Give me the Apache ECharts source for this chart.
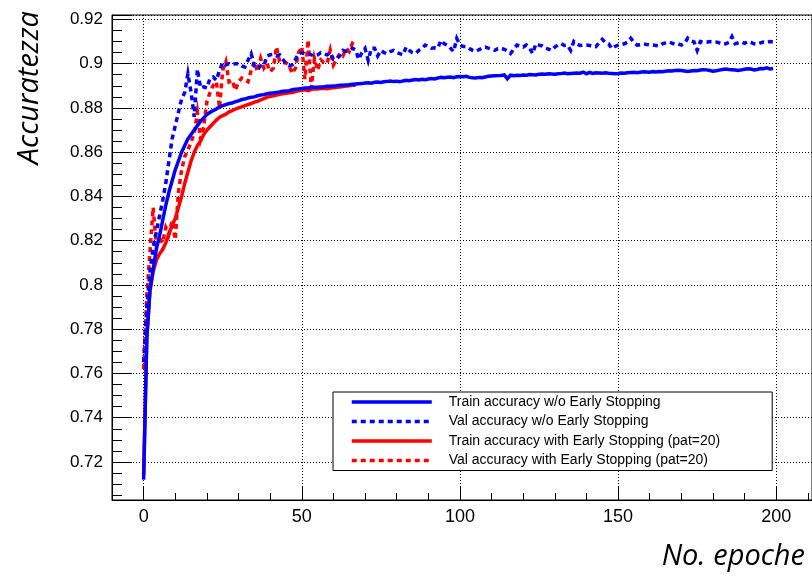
<!DOCTYPE html>
<html>
<head>
<meta charset="utf-8">
<script src="https://cdn.jsdelivr.net/npm/echarts@6/dist/echarts.min.js"></script>
<style>html,body{margin:0;padding:0;background:#fff}#c{width:812px;height:576px}</style>
</head>
<body>
<div id="c"></div>
<script>
const seriesNames = [
  'Train accuracy w/o Early Stopping',
  'Val accuracy w/o Early Stopping',
  'Train accuracy with Early Stopping (pat=20)',
  'Val accuracy with Early Stopping (pat=20)'
];
const xTitle = 'No. epoche';
const yTitle = 'Accuratezza';

const trainNoES = [
0.712,0.776,0.798,0.807,0.816,0.822,0.829,0.836,0.842,0.847,
0.852,0.856,0.860,0.863,0.866,0.868,0.870,0.872,0.874,0.8755,
0.877,0.878,0.8788,0.8795,0.8805,0.881,0.8815,0.882,0.8822,0.8828,
0.8832,0.8838,0.884,0.8845,0.8848,0.885,0.8855,0.8858,0.886,0.8864,
0.8866,0.8868,0.887,0.8872,0.8875,0.8876,0.8878,0.8882,0.8884,0.8886,
0.8888,0.889,0.889,0.8892,0.8894,0.8894,0.8895,0.8896,0.8898,0.8898,
0.8899,0.890,0.8902,0.8903,0.8904,0.8905,0.8907,0.8908,0.8909,0.891,
0.8913,0.8914,0.8912,0.8916,0.8917,0.8915,0.8918,0.892,0.8922,0.8919,
0.8921,0.8918,0.8922,0.8925,0.8923,0.8926,0.8928,0.8926,0.8929,0.8927,
0.8931,0.8933,0.8931,0.8935,0.8938,0.8936,0.8939,0.894,0.8937,0.8941,
0.8942,0.8941,0.8943,0.8938,0.8936,0.8935,0.8938,0.8937,0.894,0.8943,
0.8944,0.8945,0.8946,0.8947,0.8949,0.8932,0.8948,0.8946,0.8948,0.8947,
0.8949,0.8948,0.8951,0.895,0.8949,0.8952,0.8953,0.8952,0.8954,0.8953,
0.8952,0.8954,0.8955,0.8958,0.8955,0.8956,0.8957,0.8958,0.8957,0.8962,
0.8954,0.8961,0.8956,0.8959,0.8958,0.8957,0.8959,0.8957,0.8956,0.8955,
0.8956,0.8958,0.8957,0.8959,0.896,0.8961,0.8959,0.8961,0.8963,0.8962,
0.8961,0.8964,0.8962,0.8965,0.8964,0.8966,0.8968,0.8967,0.8969,0.897,
0.8969,0.8967,0.8965,0.8967,0.8969,0.8968,0.8971,0.8973,0.8972,0.8969,
0.8966,0.8968,0.8971,0.8974,0.8976,0.8974,0.8973,0.8971,0.8969,0.8972,
0.8975,0.8977,0.8976,0.8972,0.8974,0.8978,0.8977,0.8981,0.8976,0.8978
];
const valNoES = [
0.765,0.790,0.806,0.817,0.824,0.831,0.838,0.846,0.856,0.866,
0.872,0.878,0.884,0.887,0.8955,0.887,0.876,0.8975,0.889,0.8895,
0.889,0.8935,0.894,0.8925,0.897,0.9005,0.8995,0.900,0.8995,0.900,
0.900,0.899,0.8985,0.9015,0.9045,0.899,0.8975,0.899,0.899,0.9035,
0.904,0.9042,0.9035,0.904,0.902,0.900,0.899,0.8995,0.902,0.9045,
0.905,0.9045,0.9046,0.904,0.9035,0.904,0.905,0.9045,0.904,0.905,
0.902,0.9022,0.9035,0.906,0.9055,0.906,0.907,0.9062,0.902,0.905,
0.9069,0.9015,0.907,0.907,0.9035,0.906,0.905,0.9045,0.9055,0.906,
0.905,0.9045,0.904,0.9075,0.906,0.905,0.9046,0.906,0.907,0.9084,
0.9078,0.907,0.9072,0.907,0.9105,0.909,0.9084,0.907,0.9055,0.9114,
0.9084,0.9078,0.9077,0.9068,0.906,0.9055,0.9063,0.907,0.9075,0.907,
0.9066,0.906,0.9068,0.907,0.9065,0.9058,0.9046,0.9065,0.9084,0.908,
0.9075,0.9084,0.907,0.9046,0.909,0.9084,0.908,0.907,0.9066,0.906,
0.9075,0.9085,0.909,0.9082,0.9084,0.906,0.910,0.9088,0.9082,0.9084,
0.9084,0.9082,0.908,0.9077,0.9095,0.911,0.9095,0.909,0.9068,0.9078,
0.9084,0.9086,0.909,0.9098,0.9115,0.9095,0.9084,0.9086,0.909,0.9087,
0.9085,0.9084,0.9082,0.908,0.909,0.9094,0.9098,0.9093,0.9087,0.909,
0.9084,0.9092,0.9115,0.9103,0.9098,0.906,0.910,0.9098,0.9097,0.910,
0.9099,0.9098,0.9094,0.9088,0.909,0.9096,0.9122,0.909,0.9094,0.9098,
0.9092,0.910,0.9096,0.909,0.9088,0.9094,0.9098,0.9096,0.910,0.9098
];
const trainES = [
0.714,0.776,0.797,0.806,0.811,0.814,0.816,0.819,0.823,0.827,
0.830,0.835,0.840,0.846,0.851,0.856,0.860,0.863,0.865,0.868,
0.870,0.8715,0.873,0.8745,0.8758,0.8765,0.8772,0.8782,0.8788,0.8795,
0.880,0.8805,0.881,0.8815,0.882,0.8826,0.883,0.8836,0.8842,0.8848,
0.8852,0.8855,0.8858,0.8862,0.8864,0.8866,0.8868,0.887,0.8874,0.8878,
0.888,0.8882,0.8878,0.8884,0.8885,0.8886,0.8888,0.8889,0.8887,0.889,
0.8891,0.8893,0.8895,0.8897,0.8899,0.890,0.8902,0.8903
];
const valES = [
0.762,0.795,0.815,0.835,0.818,0.821,0.819,0.826,0.823,0.829,
0.8205,0.842,0.852,0.858,0.861,0.8645,0.8685,0.878,0.866,0.8715,
0.8828,0.887,0.8903,0.8918,0.880,0.8971,0.9009,0.8918,0.8925,0.888,
0.8918,0.8935,0.8925,0.8918,0.897,0.9009,0.8964,0.9024,0.898,0.900,
0.8964,0.898,0.9076,0.9009,0.9002,0.9005,0.899,0.8956,0.898,0.905,
0.9076,0.893,0.9107,0.889,0.9024,0.8971,0.9017,0.9005,0.900,0.9061,
0.8994,0.902,0.9046,0.9035,0.907,0.9055,0.9092,0.908
];

const toPairs = arr => arr.map((v, i) => [i, v]);
const BLUE = '#0000ff', RED = '#ff0000';
const dotted = [5, 4];

const chart = echarts.init(document.getElementById('c'), null, {renderer: 'canvas'});
const tickFont = 'Liberation Sans';

function lineSeries(name, data, color, dashed, z) {
  return {
    name: name, type: 'line', data: toPairs(data),
    showSymbol: false, symbol: 'none', z: z, animation: false,
    lineStyle: {color: color, width: 3.5, type: dashed ? dotted : 'solid', cap: 'butt', join: 'miter'},
    itemStyle: {color: color}
  };
}

chart.setOption({
  animation: false,
  backgroundColor: '#ffffff',
  grid: {left: 112, top: 15, right: -10, bottom: 76, show: true, borderColor: '#000', borderWidth: 1, backgroundColor: 'transparent'},
  xAxis: {
    type: 'value', min: -10, max: 211.3, splitNumber: 5,
    axisLine: {show: true, onZero: false, lineStyle: {color: '#000', width: 1}},
    axisTick: {show: true, inside: true, length: 14, lineStyle: {color: '#000'}},
    minorTick: {show: true, splitNumber: 5, length: 7, lineStyle: {color: '#000'}},
    axisLabel: {show: true, color: '#000', fontFamily: tickFont, fontSize: 18, margin: 8, showMinLabel: false, showMaxLabel: false},
    splitLine: {show: true, lineStyle: {color: '#000', width: 1, type: [1, 2]}}
  },
  yAxis: {
    type: 'value', min: 0.7028, max: 0.922, splitNumber: 10,
    axisLine: {show: true, onZero: false, lineStyle: {color: '#000', width: 1}},
    axisTick: {show: true, inside: true, length: 20, lineStyle: {color: '#000'}},
    minorTick: {show: true, splitNumber: 4, length: 10, lineStyle: {color: '#000'}},
    axisLabel: {show: true, color: '#000', fontFamily: tickFont, fontSize: 17, margin: 9, showMinLabel: false, showMaxLabel: false,
      formatter: v => String(Math.round(v * 100) / 100)},
    splitLine: {show: true, lineStyle: {color: '#000', width: 1, type: [1, 2]}}
  },
  legend: {
    show: true, orient: 'vertical', left: 333, top: 392,
    data: seriesNames,
    itemWidth: 80, itemHeight: 14, itemGap: 5.5,
    padding: [3, 52, 3, 17],
    itemStyle: {opacity: 0},
    lineStyle: {width: 3.5},
    backgroundColor: '#fff', borderColor: '#000', borderWidth: 1, borderRadius: 0,
    textStyle: {fontFamily: tickFont, fontSize: 14, color: '#000', padding: [0, 0, 0, 12]},
    selectedMode: false
  },
  graphic: [
    {type: 'text', x: 805, y: 557, z: 100,
     style: {text: xTitle, font: 'italic 29px "Open Sans"', fill: '#000', align: 'right', verticalAlign: 'middle'}},
    {type: 'text', x: 30, y: 11, rotation: Math.PI / 2, z: 100,
     style: {text: yTitle, font: 'italic 29px "Open Sans"', fill: '#000', align: 'right', verticalAlign: 'middle'}}
  ],
  series: [
    lineSeries(seriesNames[2], trainES, RED, false, 2),
    lineSeries(seriesNames[3], valES, RED, true, 2),
    lineSeries(seriesNames[0], trainNoES, BLUE, false, 3),
    lineSeries(seriesNames[1], valNoES, BLUE, true, 3)
  ]
});
</script>
</body>
</html>
